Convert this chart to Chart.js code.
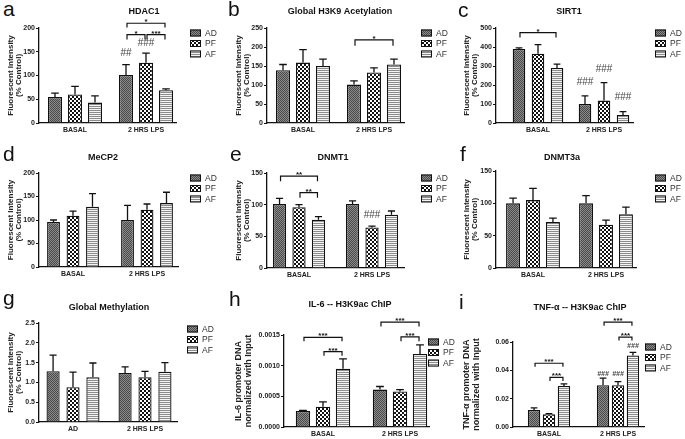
<!DOCTYPE html>
<html>
<head>
<meta charset="utf-8">
<script src="https://cdn.jsdelivr.net/npm/chart.js@4.4.0/dist/chart.umd.min.js"></script>
<style>
  body { margin: 0; background: #fff; width: 685px; height: 439px; position: relative; overflow: hidden; font-family: "Liberation Sans", Arial, sans-serif; }
  canvas { position: absolute; }
  .lt { position: absolute; font-size: 21px; line-height: 1; color: #111; }
</style>
</head>
<body>
<script>
const groupNames = ['AD', 'PF', 'AF'];
const timeCats = ['BASAL', '2 HRS LPS'];
const methCats = ['AD', '2 HRS LPS'];

// a - HDAC1   (rows = AD, PF, AF ; cols = basal, lps)
const hdac1Mean = [[55, 101], [60, 127], [43, 69]];
const hdac1Err = [[8, 22], [17, 20], [14, 3]];
const hdac1Ticks = [0, 50, 100, 150, 200];
const hdac1Hash = [[1, 0, '##', 146], [1, 1, '###', 167]];
const hdac1Sig = [[1, 0, 1, 1, 186, 176, '*'], [1, 1, 1, 2, 186, 176, '***'], [1, 0, 1, 2, 210, 201, '*']];

// b - Global H3K9 acetylation
const h3k9Mean = [[139, 101], [159, 133], [150, 154]];
const h3k9Err = [[15, 10], [34, 12], [18, 14]];
const h3k9Ticks = [0, 50, 100, 150, 200, 250];
const h3k9Sig = [[1, 0, 1, 2, 219, 203, '*']];

// c - SIRT1
const sirt1Mean = [[390, 100], [365, 118], [290, 42]];
const sirt1Err = [[5, 43], [47, 95], [20, 18]];
const sirt1Ticks = [0, 100, 200, 300, 400, 500];
const sirt1Hash = [[1, 0, '###', 212], [1, 1, '###', 284], [1, 2, '###', 137]];
const sirt1Sig = [[0, 0, 0, 2, 476, 450, '*']];

// d - MeCP2
const mecp2Mean = [[96, 100], [109, 122], [128, 136]];
const mecp2Err = [[4, 31], [10, 12], [28, 23]];
const mecp2Ticks = [0, 50, 100, 150, 200];

// e - DNMT1
const dnmt1Mean = [[101, 101], [96, 64], [76, 84]];
const dnmt1Err = [[9, 5], [4, 2], [5, 6]];
const dnmt1Ticks = [0, 50, 100, 150];
const dnmt1Hash = [[1, 1, '###', 84]];
const dnmt1Sig = [[0, 0, 0, 2, 145, 137, '**'], [0, 1, 0, 2, 119, 111, '**']];

// f - DNMT3a
const dnmt3aMean = [[100, 100], [105, 67], [71, 83]];
const dnmt3aErr = [[8, 12], [18, 7], [6, 11]];
const dnmt3aTicks = [0, 50, 100, 150];

// g - Global methylation
const methMean = [[1.28, 1.24], [0.88, 1.13], [1.13, 1.27]];
const methErr = [[0.41, 0.15], [0.38, 0.15], [0.36, 0.23]];
const methTicks = [0, 0.5, 1.0, 1.5, 2.0, 2.5];

// h - IL-6 H3K9ac ChIP
const il6Mean = [[0.00026, 0.00061], [0.00033, 0.00058], [0.00095, 0.00119]];
const il6Err = [[0.00001, 0.00005], [0.00008, 0.00003], [0.00016, 0.00015]];
const il6Ticks = [0, 0.0005, 0.0010, 0.0015];
const il6Sig = [[0, 0, 0, 2, 0.00146, 0.00140, '***'], [0, 1, 0, 2, 0.00123, 0.00116, '***'],
                [1, 0, 1, 2, 0.00171, 0.00164, '***'], [1, 1, 1, 2, 0.00147, 0.00140, '***']];

// i - TNF-a H3K9ac ChIP
const tnfMean = [[0.012, 0.0295], [0.009, 0.0295], [0.029, 0.0505]];
const tnfErr = [[0.0015, 0.005], [0.0005, 0.0025], [0.0015, 0.0022]];
const tnfTicks = [0, 0.02, 0.04, 0.06];
const tnfHash = [[1, 0, '###', 0.0375], [1, 1, '###', 0.0375], [1, 2, '###', 0.057]];
const tnfSig = [[0, 0, 0, 2, 0.045, 0.0425, '***'], [0, 1, 0, 2, 0.035, 0.0325, '***'],
                [1, 0, 1, 2, 0.074, 0.0715, '***'], [1, 1, 1, 2, 0.0635, 0.061, '***']];

const fluorTitle = ['Fluorescent Intensity', '(% Control)'];

const FONT = '"Liberation Sans", Arial, sans-serif';
Chart.defaults.font.family = FONT;
Chart.defaults.color = '#222';

const colX = [0, 228, 456];
const rowY = [0, 145, 290];
const rowH = [145, 145, 149];

const panels = [
  { letter: 'a', col: 0, row: 0, title: 'HDAC1', yTitle: fluorTitle, cats: timeCats, mean: hdac1Mean, err: hdac1Err, ticks: hdac1Ticks, dec: 0, hash: hdac1Hash, sig: hdac1Sig,
    box: { l: 39, t: 28, r: 176, b: 123, c0: 75, c1: 146, cp: 0.845, bp: 0.7 }, leg: [190, 33], head: [144, 12], lpos: [3, -2] },
  { letter: 'b', col: 1, row: 0, title: 'Global H3K9 Acetylation', yTitle: fluorTitle, cats: timeCats, mean: h3k9Mean, err: h3k9Err, ticks: h3k9Ticks, dec: 0, hash: [], sig: h3k9Sig,
    box: { l: 39, t: 28, r: 176, b: 123, c0: 75, c1: 146, cp: 0.845, bp: 0.7 }, leg: [193, 33], head: [112, 12], lpos: [0, -2] },
  { letter: 'c', col: 2, row: 0, title: 'SIRT1', yTitle: fluorTitle, cats: timeCats, mean: sirt1Mean, err: sirt1Err, ticks: sirt1Ticks, dec: 0, hash: sirt1Hash, sig: sirt1Sig,
    box: { l: 40, t: 28, r: 177, b: 123, c0: 82, c1: 148, cp: 0.864, bp: 0.66 }, leg: [199, 33], head: [113, 12], lpos: [2, -1] },
  { letter: 'd', col: 0, row: 1, title: 'MeCP2', yTitle: fluorTitle, cats: timeCats, mean: mecp2Mean, err: mecp2Err, ticks: mecp2Ticks, dec: 0, hash: [], sig: [],
    box: { l: 39, t: 28, r: 178, b: 122, c0: 73, c1: 147, cp: 0.79, bp: 0.66 }, leg: [190, 33], head: [103, 13], lpos: [3, -2] },
  { letter: 'e', col: 1, row: 1, title: 'DNMT1', yTitle: fluorTitle, cats: timeCats, mean: dnmt1Mean, err: dnmt1Err, ticks: dnmt1Ticks, dec: 0, hash: dnmt1Hash, sig: dnmt1Sig,
    box: { l: 39, t: 28, r: 176, b: 123, c0: 71, c1: 144, cp: 0.8, bp: 0.68 }, leg: [193, 33], head: [105, 13], lpos: [2, -2] },
  { letter: 'f', col: 2, row: 1, title: 'DNMT3a', yTitle: fluorTitle, cats: timeCats, mean: dnmt3aMean, err: dnmt3aErr, ticks: dnmt3aTicks, dec: 0, hash: [], sig: [],
    box: { l: 40, t: 26, r: 180, b: 123, c0: 77, c1: 150, cp: 0.82, bp: 0.7 }, leg: [199, 33], head: [106, 13], lpos: [4, -2] },
  { letter: 'g', col: 0, row: 2, title: 'Global Methylation', yTitle: fluorTitle, cats: methCats, mean: methMean, err: methErr, ticks: methTicks, dec: 1, hash: [], sig: [],
    box: { l: 39, t: 33, r: 177, b: 132, c0: 73, c1: 145, cp: 0.83, bp: 0.66 }, leg: [187, 39], head: [109, 18], lpos: [3, -3] },
  { letter: 'h', col: 1, row: 2, title: 'IL-6 -- H3K9ac ChIP', yTitle: ['IL-6 promoter DNA', 'normalized with Input'], big: true, cats: timeCats, mean: il6Mean, err: il6Err, ticks: il6Ticks, dec: 4, hash: [], sig: il6Sig,
    box: { l: 56, t: 45, r: 201, b: 137, c0: 95, c1: 172, cp: 0.78, bp: 0.72 }, leg: [200, 52], head: [122, 15], lpos: [1, -2] },
  { letter: 'i', col: 2, row: 2, title: 'TNF-\u03b1 -- H3K9ac ChIP', yTitle: ['TNF-\u03b1 promoter DNA', 'normalized with Input'], big: true, italicHash: true, cats: timeCats, mean: tnfMean, err: tnfErr, ticks: tnfTicks, dec: 2, hash: tnfHash, sig: tnfSig,
    box: { l: 57, t: 52, r: 188, b: 137, c0: 93, c1: 162, cp: 0.65, bp: 0.83 }, leg: [189, 57], head: [124, 18], lpos: [3, 1] }
];

// bar fills: AD fine dark check, PF black/white checker, AF grey horizontal stripes
function tile(w, h, draw) {
  const c = document.createElement('canvas');
  c.width = w; c.height = h;
  const g = c.getContext('2d');
  draw(g);
  return g.createPattern(c, 'repeat');
}
const fills = [
  tile(2, 2, g => { g.fillStyle = '#8a8a8a'; g.fillRect(0, 0, 2, 2); g.fillStyle = '#4a4a4a'; g.fillRect(0, 0, 1, 1); g.fillRect(1, 1, 1, 1); }),
  tile(4, 4, g => { g.fillStyle = '#fff'; g.fillRect(0, 0, 4, 4); g.fillStyle = '#111'; g.fillRect(0, 0, 2, 2); g.fillRect(2, 2, 2, 2); }),
  tile(1, 2, g => { g.fillStyle = '#f4f4f4'; g.fillRect(0, 0, 1, 2); g.fillStyle = '#8c8c8c'; g.fillRect(0, 0, 1, 1); })
];

function makeDecor(p) {
  return {
    id: 'decor' + p.letter,
    afterDatasetsDraw(chart) {
      const ctx = chart.ctx, y = chart.scales.y;
      ctx.save();
      ctx.strokeStyle = '#111';
      ctx.lineWidth = 1.3;
      p.mean.forEach((row, di) => {
        chart.getDatasetMeta(di).data.forEach((bar, i) => {
          const top = y.getPixelForValue(row[i] + p.err[di][i]);
          const half = bar.width * 0.27;
          ctx.beginPath();
          ctx.moveTo(bar.x, bar.y);
          ctx.lineTo(bar.x, top);
          ctx.moveTo(bar.x - half, top);
          ctx.lineTo(bar.x + half, top);
          ctx.stroke();
        });
      });
      ctx.restore();
    },
    afterDraw(chart) {
      const ctx = chart.ctx, y = chart.scales.y;
      const bx = (g, c) => chart.getDatasetMeta(g).data[c].x;
      ctx.save();
      // significance brackets
      ctx.strokeStyle = '#111';
      ctx.lineWidth = 1.2;
      ctx.fillStyle = '#111';
      ctx.textAlign = 'center';
      ctx.textBaseline = 'alphabetic';
      ctx.font = 'bold 8px ' + FONT;
      p.sig.forEach(s => {
        const x1 = bx(s[1], s[0]) + 1, x2 = bx(s[3], s[2]) - 1;
        const yt = y.getPixelForValue(s[4]), yl = y.getPixelForValue(s[5]);
        ctx.beginPath();
        ctx.moveTo(x1, yl); ctx.lineTo(x1, yt); ctx.lineTo(x2, yt); ctx.lineTo(x2, yl);
        ctx.stroke();
        ctx.fillText(s[6], (x1 + x2) / 2, yt + 1);
      });
      // hash marks
      ctx.textBaseline = 'middle';
      ctx.fillStyle = '#444';
      ctx.font = p.italicHash ? 'italic bold 7px ' + FONT : '10px ' + FONT;
      p.hash.forEach(h => ctx.fillText(h[2], bx(h[1], h[0]), y.getPixelForValue(h[3])));
      // title
      ctx.fillStyle = '#111';
      ctx.font = 'bold 9px ' + FONT;
      ctx.fillText(p.title, p.head[0], p.head[1]);
      // legend
      ctx.textAlign = 'left';
      ctx.font = '8.5px ' + FONT;
      groupNames.forEach((name, k) => {
        const ly = p.leg[1] + k * 10.5;
        ctx.fillStyle = fills[k];
        ctx.fillRect(p.leg[0], ly - 3.5, 11, 7);
        ctx.lineWidth = 1;
        ctx.strokeStyle = '#111';
        ctx.strokeRect(p.leg[0] + 0.5, ly - 3, 10, 6);
        ctx.fillStyle = '#333';
        ctx.fillText(name, p.leg[0] + 15, ly + 0.5);
      });
      ctx.restore();
    }
  };
}

panels.forEach(p => {
  const W = 229, H = rowH[p.row];
  const bx = p.box;
  const span = bx.c1 - bx.c0;
  const padLeft = p.big ? 6 : 6;

  const letter = document.createElement('div');
  letter.className = 'lt';
  letter.textContent = p.letter;
  letter.style.left = (colX[p.col] + p.lpos[0]) + 'px';
  letter.style.top = (rowY[p.row] + p.lpos[1]) + 'px';
  document.body.appendChild(letter);

  const cv = document.createElement('canvas');
  cv.width = W; cv.height = H;
  cv.style.left = colX[p.col] + 'px';
  cv.style.top = rowY[p.row] + 'px';
  cv.style.width = W + 'px'; cv.style.height = H + 'px';
  document.body.appendChild(cv);

  new Chart(cv, {
    type: 'bar',
    data: {
      datasets: groupNames.map((name, di) => ({
        label: name,
        data: p.mean[di].map((v, i) => ({ x: i, y: v })),
        backgroundColor: fills[di],
        borderColor: '#111',
        borderWidth: 1.3,
        categoryPercentage: bx.cp,
        barPercentage: bx.bp
      }))
    },
    options: {
      responsive: false,
      animation: false,
      layout: { padding: { left: padLeft, top: bx.t, right: W - bx.r, bottom: 0 } },
      plugins: { legend: { display: false }, tooltip: { enabled: false } },
      scales: {
        x: {
          type: 'linear',
          offset: false,
          min: -(bx.c0 - bx.l) / span,
          max: 1 + (bx.r - bx.c1) / span,
          afterBuildTicks: s => { s.ticks = [{ value: 0 }, { value: 1 }]; },
          afterFit: s => { s.height = H - bx.b; },
          grid: { display: false, drawTicks: false, tickLength: 0 },
          border: { display: true, color: '#111', width: 1.3 },
          ticks: { autoSkip: false, maxRotation: 0, padding: 3, color: '#222', font: { size: 7, weight: 'bold' },
                   callback: (v, i) => p.cats[i] }
        },
        y: {
          min: 0,
          max: p.ticks[p.ticks.length - 1],
          afterBuildTicks: s => { s.ticks = p.ticks.map(v => ({ value: v })); },
          afterFit: s => { s.width = bx.l - padLeft; },
          grid: { display: true, drawOnChartArea: false, drawTicks: true, tickLength: 3, color: '#111', lineWidth: 1 },
          border: { display: true, color: '#111', width: 1.3 },
          ticks: { padding: 1, color: '#222', font: { size: 7, weight: 'bold' }, callback: v => Number(v).toFixed(p.dec) },
          title: { display: true, text: p.yTitle, color: '#222', padding: { top: 0, bottom: 0 },
                   font: { size: p.big ? 9 : 8, weight: 'bold', lineHeight: 1.1 } }
        }
      }
    },
    plugins: [makeDecor(p)]
  });
});
</script>
</body>
</html>
